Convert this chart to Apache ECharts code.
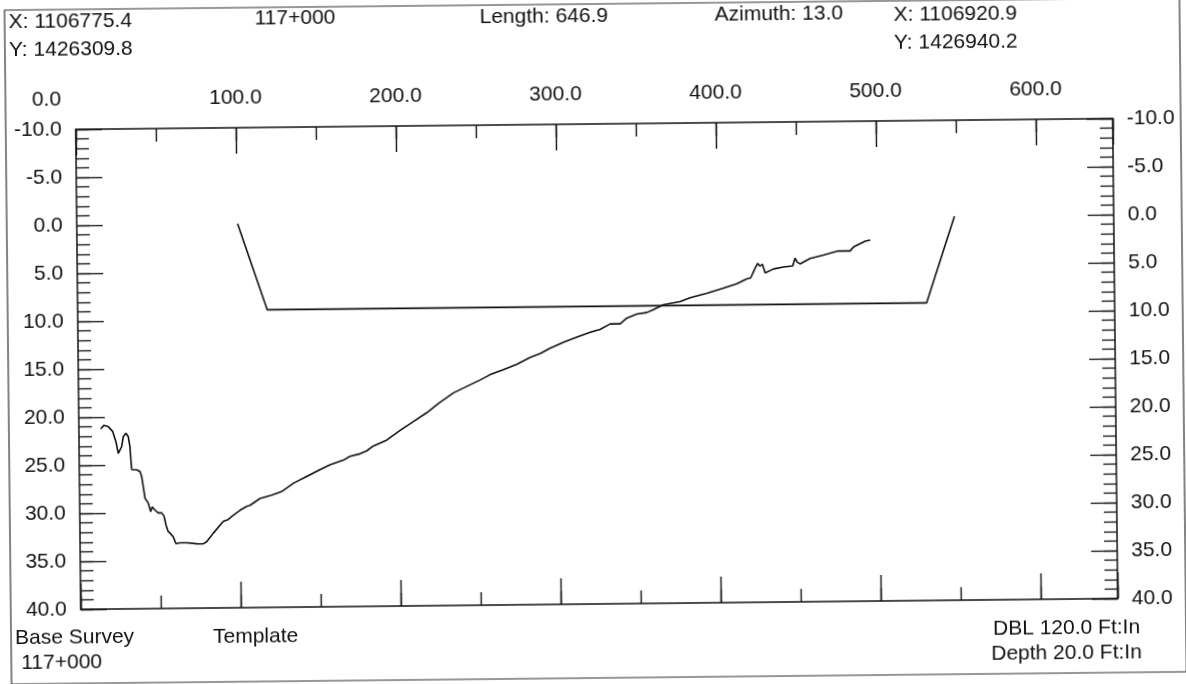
<!DOCTYPE html>
<html>
<head>
<meta charset="utf-8">
<script src="https://cdn.jsdelivr.net/npm/echarts@6/dist/echarts.min.js"></script>
<style>
html,body{margin:0;padding:0;background:#fff;overflow:hidden;}
#wrap{width:1186px;height:684px;transform:rotate(-0.6deg);transform-origin:593px 342px;}
#chart{width:1186px;height:684px;}
</style>
</head>
<body>
<div id="wrap"><div id="chart"></div></div>
<script>
// Station (ft) along section
const surveyX = [13.6,15.7,18.35,21.1,23.1,24.5,25.5,26.6,27.7,29.4,30.8,31.8,32.3,32.8,35.9,37.9,38.9,39.85,40.9,42.85,44.3,45.3,47.0,49.1,51.2,52.6,53.8,55.0,56.25,58.3,59.9,62.4,66.6,72.9,77.0,79.1,83.35,89.6,92.7,96.0,100.15,104.3,106.4,112.7,120.1,126.3,133.7,142.0,150.4,156.7,165.0,169.25,175.5,179.7,183.9,192.3,200.7,209.1,217.4,224.8,234.3,242.6,251.0,257.3,265.6,274.05,282.4,288.7,295.0,303.3,311.7,320.1,326.3,332.6,338.9,343.1,349.4,355.6,359.8,366.0,376.5,382.8,393.2,403.65,412.1,418.3,420.8,423.0,425.2,426.7,428.2,429.85,435.1,441.3,447.1,448.65,449.9,451.8,458.0,466.4,475.6,483.1,485.2,490.0,492.6,495.7];
// Depth (ft) of base survey
const surveyDepth = [21.23,20.85,21.0,21.5,22.6,23.8,24.0,23.1,22.05,21.7,22.06,23.1,24.5,25.5,25.52,25.7,26.2,27.3,28.5,29.0,29.9,29.4,29.74,30.04,30.04,30.35,31.3,31.95,32.15,32.55,33.26,33.17,33.17,33.29,33.3,33.1,32.2,31.0,30.8,30.35,29.85,29.45,29.35,28.65,28.3,27.95,27.1,26.4,25.7,25.2,24.75,24.35,24.1,23.8,23.3,22.7,21.7,20.8,19.9,18.95,17.85,17.2,16.55,16.0,15.5,14.95,14.25,13.85,13.3,12.7,12.2,11.7,11.4,10.85,10.85,10.25,9.85,9.7,9.4,8.9,8.6,8.2,7.75,7.25,6.8,6.3,6.2,5.4,4.7,5.0,4.8,5.7,5.3,5.1,5.0,4.2,4.6,4.8,4.25,3.9,3.5,3.5,3.1,2.7,2.5,2.4];
// Channel template
const templateX = [100.5,118.5,530.5,548.5];
const templateDepth = [0,9,9,0];
// Axis tick labels
const stationTicks = [0,100,200,300,400,500,600];
const depthTicks = [-10,-5,0,5,10,15,20,25,30,35,40];

const FONT = "'Liberation Sans', Arial, sans-serif";
const INK = '#111';
const FS = 21;

const surveyData = surveyX.map((x,i)=>[x,surveyDepth[i]]);
const templateData = templateX.map((x,i)=>[x,templateDepth[i]]);

function xAx(pos, interval, len, showLabel, showLine){
  return {
    type:'value', position:pos, min:0, max:648, interval:interval,
    axisLine:{show:showLine, onZero:false, lineStyle:{color:INK,width:1.5}},
    axisTick:{show:true, inside:true, length:len, lineStyle:{color:INK,width:1.4}},
    splitLine:{show:false},
    axisLabel:{show:showLabel, margin:19, fontSize:FS, fontFamily:FONT, color:INK,
      formatter:function(v){ if(stationTicks.indexOf(v)<0) return ''; return v===0?'{z|0.0}':v.toFixed(1);},
      rich:{z:{fontSize:FS,fontFamily:FONT,color:INK,padding:[0,58,0,0]}}
    }
  };
}
function yAx(pos, interval, len, showLabel, showLine){
  return {
    type:'value', position:pos, inverse:true, min:-10, max:40, interval:interval,
    axisLine:{show:showLine, onZero:false, lineStyle:{color:INK,width:1.5}},
    axisTick:{show:true, inside:true, length:len, lineStyle:{color:INK,width:1.3}},
    splitLine:{show:false},
    axisLabel:{show:showLabel, margin:14, fontSize:FS, fontFamily:FONT, color:INK,
      formatter:function(v){ return depthTicks.indexOf(v)<0?'':v.toFixed(1);} }
  };
}

const txt = (t,x,y)=>({type:'text', x:x, y:y, style:{text:t, fill:INK, font:FS+'px '+FONT, verticalAlign:'middle', align:'left'}});

const chart = echarts.init(document.getElementById('chart'), null, {renderer:'canvas'});
chart.setOption({
  animation:false,
  backgroundColor:'#fff',
  grid:{left:78, top:124, width:1037, height:480, containLabel:false},
  xAxis:[xAx('top',100,26,true,true), xAx('top',50,13,false,false), xAx('bottom',100,26,false,true), xAx('bottom',50,13,false,false)],
  yAxis:[yAx('left',5,26,true,true), yAx('left',1,13,false,false), yAx('right',5,26,true,true), yAx('right',1,13,false,false)],
  series:[
    {name:'Base Survey', type:'line', data:surveyData, xAxisIndex:0, yAxisIndex:0, symbol:'none', smooth:false,
     lineStyle:{color:INK,width:1.6}},
    {name:'Template', type:'line', data:templateData, xAxisIndex:0, yAxisIndex:0, symbol:'none',
     lineStyle:{color:INK,width:1.6}}
  ],
  graphic:[
    {type:'rect', shape:{x:8,y:4,width:1175,height:674}, style:{fill:'none', stroke:'#333', lineWidth:1.2}, silent:true},
    txt('X: 1106775.4',12,16),
    txt('Y: 1426309.8',12,44),
    txt('117+000',258,15),
    txt('Length: 646.9',483,16),
    txt('Azimuth: 13.0',718,16),
    txt('X: 1106920.9',897,18),
    txt('Y: 1426940.2',897,46),
    txt('Base Survey',12,632),
    txt('117+000',18,657),
    txt('Template',210,633),
    txt('DBL 120.0 Ft:In',990,633),
    txt('Depth 20.0 Ft:In',988,658)
  ]
});
</script>
</body>
</html>
